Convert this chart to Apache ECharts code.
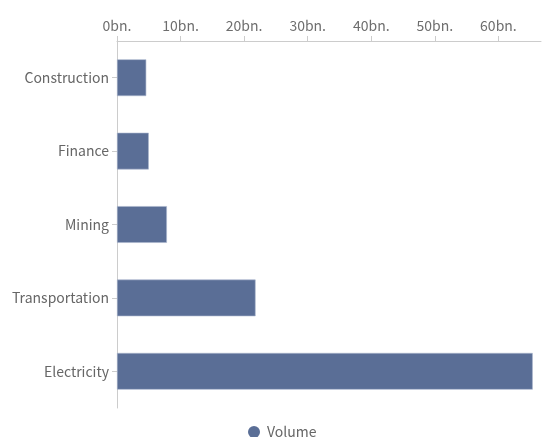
<!DOCTYPE html>
<html>
<head>
<meta charset="utf-8">
<script src="https://cdn.jsdelivr.net/npm/echarts@6/dist/echarts.min.js"></script>
<style>
  html, body { margin: 0; padding: 0; background: #fff; }
  #chart { width: 542px; height: 437px; }
</style>
</head>
<body>
<div id="chart"></div>
<script>
// Sectors, listed top to bottom
const categories = ['Construction', 'Finance', 'Mining', 'Transportation', 'Electricity'];
// Volume per sector, in billions
const volumeValues = [4.6, 5.0, 7.85, 21.8, 65.4];
// Value axis tick positions
const valueTicks = [0, 10, 20, 30, 40, 50, 60];
const seriesName = 'Volume';

const chart = echarts.init(document.getElementById('chart'), null, { renderer: 'canvas' });
const font = '"Noto Sans CJK SC", "Noto Sans", sans-serif';

chart.setOption({
  animation: false,
  textStyle: { fontFamily: font },
  grid: { left: 117, right: 1, top: 41, bottom: 29, containLabel: false },
  legend: {
    top: 420,
    left: 243,
    icon: 'circle',
    itemWidth: 12,
    itemHeight: 12,
    itemGap: 6,
    itemStyle: { borderWidth: 0 },
    textStyle: { fontSize: 14, color: '#666', fontFamily: font, padding: [0, 0, 0, 2] },
    data: [seriesName]
  },
  xAxis: {
    type: 'value',
    position: 'top',
    min: 0,
    max: 66.7,
    interval: 10,
    splitLine: { show: false },
    axisLine: { show: true, lineStyle: { color: '#ccc' } },
    axisTick: { show: true, customValues: valueTicks, length: 5, lineStyle: { color: '#ccc' } },
    axisLabel: {
      customValues: valueTicks,
      margin: 8,
      fontSize: 14,
      color: '#6e6e6e',
      fontFamily: font,
      formatter: v => v + 'bn.'
    }
  },
  yAxis: {
    type: 'category',
    inverse: true,
    data: categories,
    axisLine: { show: true, lineStyle: { color: '#ccc' } },
    axisTick: { show: true, alignWithLabel: true, length: 5, lineStyle: { color: '#ccc' } },
    axisLabel: { fontSize: 14, color: '#666', margin: 8, fontFamily: font }
  },
  series: [{
    name: seriesName,
    type: 'bar',
    data: volumeValues,
    barWidth: '50%',
    itemStyle: { color: '#5a6e96', borderColor: '#aab6cc', borderWidth: 0.6 }
  }]
});
</script>
</body>
</html>
